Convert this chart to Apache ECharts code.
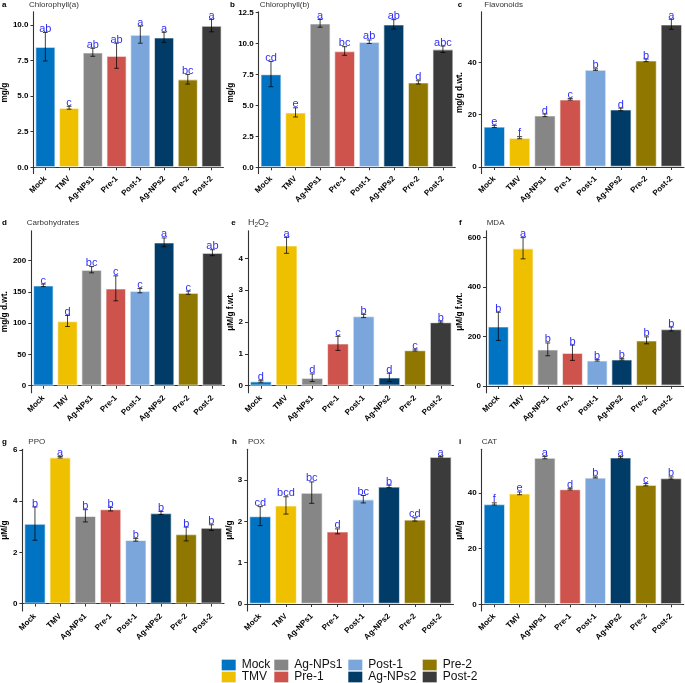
<!DOCTYPE html>
<html><head><meta charset="utf-8">
<script src="https://cdn.jsdelivr.net/npm/echarts@6/dist/echarts.min.js"></script>
<style>html,body{margin:0;padding:0;background:#fff}#c{width:685px;height:683px}</style>
</head><body><div id="c"></div>
<script>
const categories = ['Mock','TMV','Ag-NPs1','Pre-1','Post-1','Ag-NPs2','Pre-2','Post-2'];
const colors = ['#0073C2','#EFC000','#868686','#CD534C','#7AA6DC','#003C67','#8F7700','#3B3B3B'];

const panelTags = ['a','b','c','d','e','f','g','h','i'];
const panelTitles = ['Chlorophyll(a)','Chlorophyll(b)','Flavonoids','Carbohydrates','{n|H}{s|2}{n|O}{s|2}','MDA','PPO','POX','CAT'];
const yNames = ['mg/g','mg/g','mg/g d.wt.','mg/g d.wt.','μM/g f.wt.','μM/g f.wt.','μM/g','μM/g','μM/g'];

const chlA = [8.46,4.18,8.07,7.83,9.31,9.12,6.18,9.94];
const chlA_se = [1.0,0.1,0.28,0.88,0.6,0.35,0.34,0.43];
const chlA_let = ['ab','c','ab','ab','a','a','bc','a'];
const chlB = [7.52,4.43,11.61,9.38,10.13,11.53,6.85,9.52];
const chlB_se = [1.02,0.37,0.31,0.35,0.14,0.38,0.13,0.26];
const chlB_let = ['cd','e','a','bc','ab','ab','d','abc'];
const flav = [15.5,11.2,19.75,25.85,37.2,22.0,40.75,54.5];
const flav_se = [0.4,0.4,0.5,0.3,0.3,0.5,0.5,1.9];
const flav_let = ['e','f','d','c','b','d','b','a'];
const carb = [160.6,103.5,185.6,155.8,152,229.4,148.8,212.8];
const carb_se = [2,8.8,5,20,3.4,7,2.5,4.8];
const carb_let = ['c','d','bc','c','c','a','c','ab'];
const h2o2 = [0.14,4.41,0.25,1.33,2.19,0.26,1.12,2.0];
const h2o2_se = [0.03,0.25,0.12,0.22,0.05,0.13,0.03,0.03];
const h2o2_let = ['d','a','d','c','b','d','c','b'];
const mda = [240.8,557,147.5,133.8,103,107,184,230];
const mda_se = [57,43,26,31,3,3,14,8];
const mda_let = ['b','a','b','b','b','b','b','b'];
const ppo = [3.125,5.72,3.43,3.69,2.49,3.54,2.72,2.97];
const ppo_se = [0.65,0.03,0.24,0.07,0.05,0.06,0.27,0.11];
const ppo_let = ['b','a','b','b','b','b','b','b'];
const pox = [2.13,2.39,2.7,1.76,2.54,2.85,2.05,3.57];
const pox_se = [0.23,0.21,0.26,0.06,0.09,0.03,0.04,0.01];
const pox_let = ['cd','bcd','bc','d','bc','b','cd','a'];
const cat = [36.0,39.8,52.6,41.3,45.5,52.7,42.9,45.3];
const cat_se = [0.4,0.5,0.4,0.3,0.2,0.3,0.4,0.4];
const cat_let = ['f','e','a','d','b','a','c','b'];

const ticksA = [0,2.5,5,7.5,10];
const ticksB = [0,2.5,5,7.5,10,12.5];
const ticksC = [0,20,40];
const ticksD = [0,50,100,150,200];
const ticksE = [0,1,2,3,4];
const ticksF = [0,200,400,600];
const ticksG = [0,2,4,6];
const ticksH = [0,1,2,3];
const ticksI = [0,20,40];

const means = [chlA,chlB,flav,carb,h2o2,mda,ppo,pox,cat];
const ses = [chlA_se,chlB_se,flav_se,carb_se,h2o2_se,mda_se,ppo_se,pox_se,cat_se];
const letters = [chlA_let,chlB_let,flav_let,carb_let,h2o2_let,mda_let,ppo_let,pox_let,cat_let];
const ticks = [ticksA,ticksB,ticksC,ticksD,ticksE,ticksF,ticksG,ticksH,ticksI];
const decimals = [1,1,0,0,0,0,0,0,0];

// layout (pixels): grid box, axis range, name gap, tag/title positions
const layout = [
  {L:28.3,T:11.7,R:223.4,B:173.5,min:-0.435,max:10.92,gap:17.5,tagX:2,titleX:29,ty:5},
  {L:258.7,T:11.7,R:455.2,B:173.5,min:-0.5,max:12.55,gap:18,tagX:230,titleX:259.7,ty:5},
  {L:481.7,T:11.7,R:684,B:173.5,min:-2.48,max:59.33,gap:11.5,tagX:457.7,titleX:484.3,ty:5},
  {L:26,T:230.7,R:224.5,B:392.7,min:-11.2,max:248,gap:14.2,tagX:2,titleX:26.7,ty:223},
  {L:248,T:230.7,R:453.6,B:392.7,min:-0.22,max:4.87,gap:6,tagX:231.3,titleX:248,ty:223},
  {L:486,T:230.7,R:683.6,B:392.7,min:-28,max:628,gap:13,tagX:459,titleX:486.7,ty:223},
  {L:17.3,T:449.3,R:224,B:611,min:-0.29,max:6.03,gap:7,tagX:2,titleX:28.3,ty:442},
  {L:247.3,T:449.3,R:453.5,B:611,min:-0.17,max:3.75,gap:6,tagX:232,titleX:248,ty:442},
  {L:481.7,T:449.3,R:683.7,B:611,min:-2.4,max:55.6,gap:11,tagX:459,titleX:481.7,ty:442}
];

const FONT = 'Liberation Sans, Arial, Helvetica, sans-serif';
const axisColor = '#333';

const grids = [], xAxes = [], yAxes = [], series = [], titles = [];
layout.forEach((g, p) => {
  grids.push({left:g.L, top:g.T, width:g.R-g.L, height:g.B-g.T, containLabel:false});
  xAxes.push({
    type:'category', gridIndex:p, data:categories,
    axisLine:{show:true, lineStyle:{color:axisColor, width:1.1}},
    axisTick:{show:true, alignWithLabel:true, length:3, lineStyle:{color:axisColor, width:1}},
    axisLabel:{interval:0, rotate:45, margin:4, fontFamily:FONT, fontWeight:'bold', fontSize:8, color:'#000'},
    splitLine:{show:false}
  });
  yAxes.push({
    type:'value', gridIndex:p, min:g.min, max:g.max,
    axisLine:{show:true, lineStyle:{color:axisColor, width:1.1}},
    axisTick:{show:true, length:3, lineStyle:{color:axisColor, width:1}, customValues:ticks[p]},
    axisLabel:{margin:5, fontFamily:FONT, fontWeight:'bold', fontSize:8, color:'#000', customValues:ticks[p],
      formatter:(v)=>Number(v).toFixed(decimals[p])},
    splitLine:{show:false},
    name:yNames[p], nameLocation:'middle', nameGap:g.gap,
    nameTextStyle:{fontFamily:FONT, fontWeight:'bold', fontSize:8.3, color:'#000'}
  });
  series.push({
    type:'bar', xAxisIndex:p, yAxisIndex:p, barWidth:'86%',
    data: means[p].map((v,i)=>({value:v, itemStyle:{color:colors[i]}})),
    itemStyle:{borderColor:'rgba(255,255,255,0.6)', borderWidth:1.2},
    silent:true, z:2
  });
  series.push({
    type:'custom', xAxisIndex:p, yAxisIndex:p, z:3, silent:true,
    data: means[p].map((m,i)=>[i, m-ses[p][i], m+ses[p][i]]),
    encode:{x:0, y:[1,2]},
    renderItem:(params, api)=>{
      const x = api.value(0);
      const lo = api.coord([x, api.value(1)]);
      const hi = api.coord([x, api.value(2)]);
      const hw = api.size([1,0])[0]*0.1;
      const st = {stroke:'rgba(0,0,0,0.75)', lineWidth:1};
      return {type:'group', children:[
        {type:'line', shape:{x1:lo[0],y1:lo[1],x2:hi[0],y2:hi[1]}, style:st},
        {type:'line', shape:{x1:lo[0]-hw,y1:lo[1],x2:lo[0]+hw,y2:lo[1]}, style:st},
        {type:'line', shape:{x1:hi[0]-hw,y1:hi[1],x2:hi[0]+hw,y2:hi[1]}, style:st},
        {type:'text', style:{text:letters[p][params.dataIndex], x:hi[0], y:hi[1]+2,
          textAlign:'center', textVerticalAlign:'bottom', fill:'#2e2ef5',
          font:'11px ' + FONT}}
      ]};
    }
  });
  titles.push({text:panelTags[p], left:g.tagX, top:g.ty-5, padding:0,
    textStyle:{fontFamily:FONT, fontWeight:'bold', fontSize:8, color:'#000', lineHeight:10}});
  titles.push({text:panelTitles[p], left:g.titleX, top:g.ty-5, padding:0,
    textStyle:{fontFamily:FONT, fontWeight:'normal', fontSize:8, color:'#333', lineHeight:10,
      rich:{n:{fontFamily:FONT, fontSize:9, color:'#333'}, s:{fontFamily:FONT, fontSize:6.5, color:'#333', padding:[5,0,0,0]}}}});
});

// hidden grid carrying legend series
grids.push({left:0, top:0, width:1, height:1, show:false});
xAxes.push({type:'category', gridIndex:9, show:false, data:['x']});
yAxes.push({type:'value', gridIndex:9, show:false});
categories.forEach((c,k)=>{
  series.push({type:'bar', name:c, xAxisIndex:9, yAxisIndex:9, data:[], itemStyle:{color:colors[k]}});
});

const legendCols = [[0,1],[2,3],[4,5],[6,7]];
const legendX = [221.7, 274.3, 348.3, 422.7];
const legends = legendCols.map((col, j)=>({
  orient:'vertical', left:legendX[j], top:659, padding:0, itemGap:0,
  itemWidth:14, itemHeight:10.7, icon:'rect', selectedMode:false,
  data: col.map(k=>categories[k]),
  textStyle:{fontFamily:FONT, fontSize:12, color:'#111', lineHeight:10.7, padding:[0,0,0,1]}
}));

const chart = echarts.init(document.getElementById('c'), null, {renderer:'canvas'});
chart.setOption({animation:false, title:titles, grid:grids, xAxis:xAxes, yAxis:yAxes, series:series, legend:legends});
</script></body></html>
